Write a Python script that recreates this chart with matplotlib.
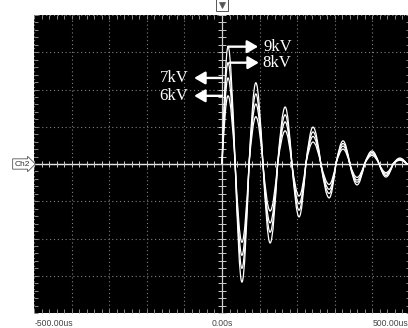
import numpy as np
import matplotlib
matplotlib.use("Agg")
import matplotlib.pyplot as plt
from matplotlib.path import Path
from matplotlib.patches import PathPatch

# times (us) of zero crossings and of the extrema between them
zero_t = [0, 35, 72, 109, 148, 186, 223, 263, 303, 340, 379, 418, 455, 492]
ext_t = [16, 53, 90, 128, 168, 205, 242, 285, 322, 359, 399, 436, 473]

# extremum values (div) per charging voltage
labels = ["9kV", "8kV", "7kV", "6kV"]
amp_9kv = [3.15, -3.17, 2.18, -2.12, 1.53, -1.42, 0.99, -0.91, 0.62, -0.56, 0.35, -0.35, 0.16]
amp_8kv = [2.72, -2.80, 1.88, -1.83, 1.32, -1.24, 0.86, -0.79, 0.55, -0.49, 0.31, -0.31, 0.14]
amp_7kv = [2.31, -2.45, 1.61, -1.58, 1.13, -1.07, 0.74, -0.68, 0.48, -0.43, 0.27, -0.27, 0.12]
amp_6kv = [1.83, -2.10, 1.27, -1.26, 0.89, -0.86, 0.59, -0.55, 0.40, -0.36, 0.23, -0.23, 0.10]
traces = [amp_9kv, amp_8kv, amp_7kv, amp_6kv]

x_ticks_text = ["-500.00us", "0.00s", "500.00us"]


def trace_path(zeros, exts, amps):
    # quarter-sine bezier pieces: zero -> extremum -> zero
    verts = [(zeros[0], 0.0)]
    codes = [Path.MOVETO]
    for i, (te, a) in enumerate(zip(exts, amps)):
        t0, t1 = zeros[i], zeros[i + 1]
        d = te - t0
        verts += [(t0 + 0.326 * d, 0.512 * a), (t0 + 0.650 * d, a), (te, a)]
        d = t1 - te
        verts += [(te + 0.350 * d, a), (te + 0.674 * d, 0.512 * a), (t1, 0.0)]
        codes += [Path.CURVE4] * 6
    verts.append((500, 0.0))
    codes.append(Path.LINETO)
    return Path(verts, codes)


fig = plt.figure(figsize=(4.08, 3.28), dpi=100)
fig.patch.set_facecolor("white")
ax = fig.add_axes([34 / 408, 15 / 328, 376 / 408, 298 / 328])
ax.set_facecolor("black")
ax.set_xlim(-500, 500)
ax.set_ylim(-4, 4)
for s in ax.spines.values():
    s.set_visible(False)

# graticule
ax.set_xticks(np.arange(-500, 501, 100))
ax.set_yticks(np.arange(-4, 5, 1))
ax.set_xticks(np.arange(-500, 501, 20), minor=True)
ax.set_yticks(np.arange(-4, 4.01, 0.2), minor=True)
ax.tick_params(which="both", direction="in", length=3, width=0.7, color="#8a8a8a",
               top=True, right=True, labelbottom=False, labelleft=False)
ax.grid(True, which="major", color="#808080", linestyle=(0, (1, 2.5)), linewidth=0.8)

ax.axhline(0, color="#e6e6e6", lw=1.0, zorder=2)
ax.axvline(0, color="#cfcfcf", lw=0.9, zorder=2)
ax.plot(np.arange(-500, 501, 20), np.zeros(51), ls="none", marker="|", ms=5,
        mew=0.7, color="#cccccc", zorder=2)
ax.plot(np.zeros(41), np.arange(-4, 4.01, 0.2), ls="none", marker="_", ms=6,
        mew=0.7, color="#cccccc", zorder=2)

for amps in traces:
    ax.add_patch(PathPatch(trace_path(zero_t, ext_t, amps), fill=False,
                           edgecolor="white", lw=0.9, zorder=3))

# voltage labels with arrows
arrow_kw = dict(arrowstyle="-|>,head_length=0.65,head_width=0.38", color="white",
                lw=1.7, mutation_scale=10, shrinkA=0, shrinkB=0)
serif = ["Liberation Serif", "DejaVu Serif"]
for lab, amps, (x0, x1, xt, ha) in zip(labels, traces,
                                       [(16, 96, 110, "left"), (21, 98, 108, "left"),
                                        (0, -74, -88, "right"), (0, -74, -90, "right")]):
    y = amps[0]
    ax.annotate("", xy=(x1, y), xytext=(x0, y), arrowprops=arrow_kw, zorder=4)
    ax.text(xt, y, lab, color="white", fontsize=12, family=serif,
            ha=ha, va="center", zorder=4)

# bottom labels
lab_kw = dict(fontsize=6.2, family=["Liberation Sans", "DejaVu Sans"], color="#444444")
fig.text(35 / 408, 5 / 328, x_ticks_text[0], ha="left", va="center", **lab_kw)
fig.text(222 / 408, 5 / 328, x_ticks_text[1], ha="center", va="center", **lab_kw)
fig.text(408 / 408, 5 / 328, x_ticks_text[2], ha="right", va="center", **lab_kw)

# channel marker and trigger marker
fig.text(22 / 408, (328 - 164) / 328, "Ch2", fontsize=6, ha="center", va="center",
         family=["Liberation Sans", "DejaVu Sans"], color="#333333",
         bbox=dict(boxstyle="rarrow,pad=0.2", fc="white", ec="#555555", lw=0.6))
ax.plot([0], [4.27], marker="s", ms=8, mfc="white", mec="#555555", mew=0.7,
        clip_on=False)
ax.plot([0], [4.28], marker="v", ms=4.5, mfc="#555555", mec="#555555", mew=0.5,
        clip_on=False)

fig.savefig("out.png", dpi=100, facecolor="white")
